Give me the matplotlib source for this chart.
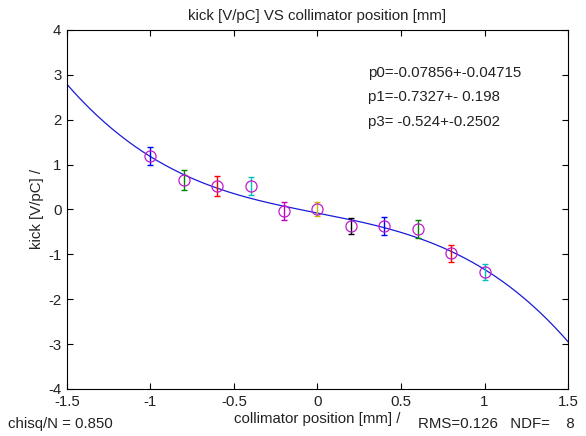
import numpy as np
import matplotlib
matplotlib.use('Agg')
import matplotlib.pyplot as plt

plt.rcParams['font.family'] = ['Liberation Sans', 'DejaVu Sans']
plt.rcParams['axes.unicode_minus'] = False

# measured points
pos = [-1.0, -0.8, -0.6, -0.4, -0.2, 0.0, 0.2, 0.4, 0.6, 0.8, 1.0]
kick = [1.20, 0.65, 0.52, 0.52, -0.04, 0.01, -0.37, -0.37, -0.43, -0.98, -1.39]
err = [0.20, 0.22, 0.22, 0.20, 0.20, 0.15, 0.18, 0.20, 0.20, 0.20, 0.17]
bar_colors = ['b', 'g', 'r', 'c', (0.75, 0, 0.75), (0.8, 0.7, 0), 'k', 'b', 'g', 'r', 'c']

# fit parameters shown on the chart
p0, p1, p3 = -0.07856, -0.7327, -0.524

fs = 10.8

fig = plt.figure(figsize=(5.86, 4.36), dpi=100)
ax = fig.add_axes([0.1143, 0.1078, 0.855, 0.8234])

xf = np.linspace(-1.5, 1.5, 200)
ax.plot(xf, p0 + p1 * xf + p3 * xf ** 3, color=(0.1, 0.1, 0.85), lw=0.9)

for x, y, e, c in zip(pos, kick, err, bar_colors):
    ax.errorbar(x, y, yerr=e, fmt='none', ecolor=c, elinewidth=1, capsize=2.5)
    ax.plot(x, y, 'o', mfc='none', mec=(0.75, 0.1, 0.8), ms=8, mew=0.9)

ax.set_xlim(-1.5, 1.5)
ax.set_ylim(-4, 4)
ax.set_xticks([-1.5, -1, -0.5, 0, 0.5, 1, 1.5])
ax.set_xticklabels(['-1.5', '-1', '-0.5', '0', '0.5', '1', '1.5'])
ax.set_yticks(range(-4, 5))
ax.tick_params(direction='in', top=True, right=True, labelsize=fs, length=4,
               labelcolor='#222222')
ax.tick_params(axis='x', pad=4.5)
ax.tick_params(axis='y', pad=4)
for s in ax.spines.values():
    s.set_linewidth(0.8)

ax.set_title('kick [V/pC] VS collimator position [mm]', fontsize=fs, pad=7, color='#222222')
ax.set_ylabel('kick [V/pC] /', fontsize=fs, labelpad=3, color='#222222')
ax.set_xlabel('collimator position [mm] /', fontsize=fs, labelpad=2, color='#222222')

ax.text(0.3, 3.04, 'p0=-0.07856+-0.04715', fontsize=fs, va='center', color='#222222')
ax.text(0.3, 2.5, 'p1=-0.7327+- 0.198', fontsize=fs, va='center', color='#222222')
ax.text(0.3, 1.96, 'p3= -0.524+-0.2502', fontsize=fs, va='center', color='#222222')

fig.text(8 / 586, 1 - 424 / 436, 'chisq/N = 0.850', fontsize=fs, va='center', color='#222222')
fig.text(418 / 586, 1 - 424 / 436, 'RMS=0.126   NDF=    8', fontsize=fs, va='center',
         color='#222222')

fig.savefig('out.png', dpi=100)
